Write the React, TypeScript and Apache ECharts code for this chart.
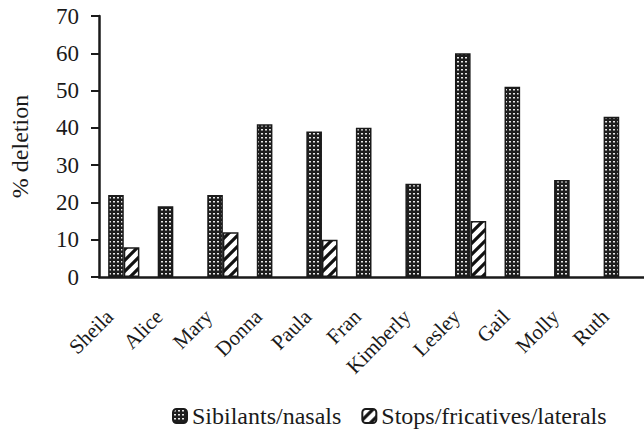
import React, { useEffect, useRef } from "react";
import * as echarts from "echarts";

const categories = ["Sheila", "Alice", "Mary", "Donna", "Paula", "Fran", "Kimberly", "Lesley", "Gail", "Molly", "Ruth"];
const sibilants = [22, 19, 22, 41, 39, 40, 25, 60, 51, 26, 43];
const stops: (number | null)[] = [8, null, 12, null, 10, null, null, 15, null, null, null];
const yTicks = { min: 0, max: 70, interval: 10 };
const seriesNames = ["Sibilants/nasals", "Stops/fricatives/laterals"];

const FONT = "Liberation Serif";
const INK = "#1a1a1a";

function dotPattern(): HTMLCanvasElement {
  const c = document.createElement("canvas");
  c.width = 4;
  c.height = 4;
  const g = c.getContext("2d")!;
  g.fillStyle = "#1e1e1e";
  g.fillRect(0, 0, 4, 4);
  g.fillStyle = "#e8e8e8";
  g.fillRect(1, 1, 2, 1.5);
  return c;
}

function stripePattern(): HTMLCanvasElement {
  const n = 11;
  const c = document.createElement("canvas");
  c.width = n;
  c.height = n;
  const g = c.getContext("2d")!;
  g.fillStyle = "#ffffff";
  g.fillRect(0, 0, n, n);
  g.strokeStyle = "#111111";
  g.lineWidth = 3.2;
  g.beginPath();
  g.moveTo(-2, n + 2);
  g.lineTo(n + 2, -2);
  g.moveTo(-2, 2);
  g.lineTo(2, -2);
  g.moveTo(n - 2, n + 2);
  g.lineTo(n + 2, n - 2);
  g.stroke();
  return c;
}

export default function App() {
  const ref = useRef<HTMLDivElement>(null);
  useEffect(() => {
    document.body.style.margin = "0";
    if (!ref.current) return;
    const chart = echarts.init(ref.current, undefined, { renderer: "svg" });
    const dots = dotPattern();
    const stripes = stripePattern();
    chart.setOption({
      animation: false,
      backgroundColor: "#ffffff",
      grid: { left: 87, right: -4, top: 16, bottom: 156, containLabel: false },
      legend: {
        left: 167,
        top: 399,
        itemWidth: 14,
        itemHeight: 14,
        itemGap: 20,
        textStyle: { fontFamily: FONT, fontSize: 24, color: INK },
        data: seriesNames,
      },
      xAxis: {
        type: "category",
        data: categories,
        axisLine: { lineStyle: { color: INK, width: 2.5 } },
        axisTick: { length: 8, lineStyle: { color: INK, width: 2 } },
        axisLabel: {
          interval: 0,
          rotate: 45,
          margin: 22,
          padding: [0, 20, 0, 0],
          fontFamily: FONT,
          fontSize: 21,
          color: INK,
        },
      },
      yAxis: {
        type: "value",
        min: yTicks.min,
        max: yTicks.max,
        interval: yTicks.interval,
        name: "% deletion",
        nameLocation: "middle",
        nameGap: 67,
        nameTextStyle: { fontFamily: FONT, fontSize: 24, color: INK },
        splitLine: { show: false },
        axisLine: { show: true, lineStyle: { color: INK, width: 2.5 } },
        axisTick: { show: true, length: 8, lineStyle: { color: INK, width: 2 } },
        axisLabel: { margin: 20, fontFamily: FONT, fontSize: 23, color: INK },
      },
      series: [
        {
          name: seriesNames[0],
          type: "bar",
          data: sibilants,
          barGap: "0%",
          barCategoryGap: "37%",
          itemStyle: {
            color: { image: dots, repeat: "repeat" },
            borderColor: INK,
            borderWidth: 1.5,
          },
        },
        {
          name: seriesNames[1],
          type: "bar",
          data: stops,
          barGap: "0%",
          barCategoryGap: "37%",
          itemStyle: {
            color: { image: stripes, repeat: "repeat" },
            borderColor: INK,
            borderWidth: 1.5,
          },
        },
      ],
    });
    return () => chart.dispose();
  }, []);
  return (
    <div
      ref={ref}
      style={{ position: "absolute", left: 0, top: 0, width: 644, height: 433 }}
    />
  );
}
